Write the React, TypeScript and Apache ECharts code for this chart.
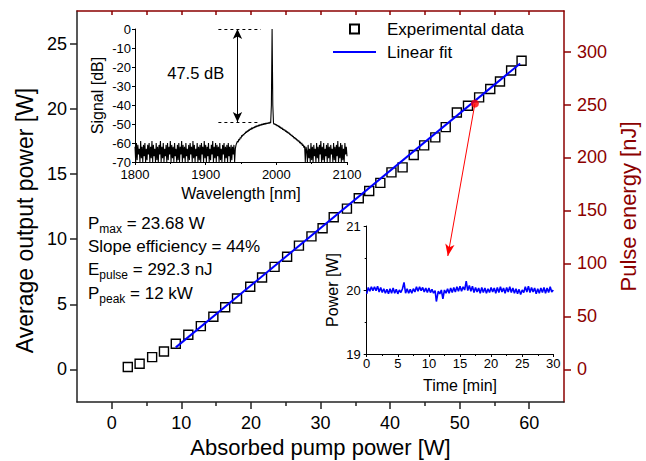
import React, { useEffect, useRef } from 'react';
import * as echarts from 'echarts';

// ---------- main plot data ----------
const pumpPower = [2.3, 4.0, 5.8, 7.5, 9.2, 11.0, 12.8, 14.6, 16.3, 18.0, 19.9, 21.6, 23.4, 25.2, 26.9, 28.7, 30.3, 31.9, 33.8, 35.5, 37.0, 38.6, 40.2, 41.8, 43.4, 44.9, 46.5, 48.0, 49.6, 51.2, 52.8, 54.4, 55.8, 57.4, 58.9];
const outputPower = [0.18, 0.44, 0.94, 1.38, 1.97, 2.66, 3.32, 4.04, 4.77, 5.44, 6.34, 7.05, 7.87, 8.64, 9.5, 10.21, 10.83, 11.67, 12.34, 13.13, 13.69, 14.31, 15.12, 15.5, 16.45, 17.19, 17.8, 18.59, 19.71, 20.23, 20.87, 21.51, 22.09, 22.93, 23.68];
const fitPump = [9.2, 58.7];
const fitOutput = [1.69, 23.47];
const markedPoint = [52.2, 20.4];
const arrowTip = [48.3, 8.7];

const pumpTicks = [0, 10, 20, 30, 40, 50, 60];
const pumpMinorTicks = [5, 15, 25, 35, 45, 55];
const pumpTopTicks = [0, 5, 10, 15, 20, 25, 30, 35, 40, 45, 50, 55, 60];
const powerTicks = [0, 5, 10, 15, 20, 25];
const energyTicks = [0, 50, 100, 150, 200, 250, 300];

const paramLines = [
  { main: 'P', sub: 'max', rest: ' = 23.68 W' },
  { main: 'Slope efficiency = 44%', sub: '', rest: '' },
  { main: 'E', sub: 'pulse', rest: ' = 292.3 nJ' },
  { main: 'P', sub: 'peak', rest: ' = 12 kW' },
];

// ---------- inset 1: optical spectrum, 1 nm sampling from 1800 nm ----------
const specStartNm = 1800;
const specStepNm = 1;
const specDb = [
  // 1800 - 1939 noise floor
  -62, -70, -60, -69, -61, -66, -63, -70, -59, -68,
  -62, -70, -61, -67, -60, -70, -63, -69, -61, -66,
  -60, -70, -62, -68, -59, -70, -61, -67, -63, -70,
  -60, -69, -62, -70, -61, -66, -59, -70, -62, -68,
  -60, -70, -63, -67, -61, -70, -60, -69, -62, -66,
  -59, -70, -61, -68, -62, -70, -60, -67, -63, -70,
  -61, -69, -60, -70, -62, -66, -59, -70, -61, -68,
  -62, -70, -60, -67, -63, -70, -61, -69, -60, -66,
  -62, -70, -59, -68, -61, -70, -63, -67, -60, -70,
  -62, -69, -61, -70, -60, -66, -62, -70, -59, -68,
  -61, -70, -62, -67, -60, -70, -63, -69, -61, -66,
  -59, -70, -62, -68, -60, -70, -61, -67, -62, -70,
  -60, -69, -63, -70, -61, -66, -60, -70, -62, -68,
  -61, -70, -60, -67, -62, -70, -61, -69, -62, -66,
  // 1940 - 1943
  -61, -70, -63, -61,
  // 1944 - 1993 rising ASE pedestal
  -60, -59, -59.5, -58, -58.5, -57, -57.5, -56, -56.5, -55.5,
  -55.8, -54.8, -55, -54, -54.5, -53.5, -54, -53, -53.5, -52.5,
  -53, -52, -52.6, -51.8, -52.2, -51.4, -51.9, -51, -51.6, -50.8,
  -51.3, -50.5, -51, -50.3, -50.8, -50, -50.6, -49.8, -50.4, -49.6,
  -50.2, -49.5, -50, -49.3, -49.9, -49.2, -49.7, -49, -49.5, -40,
  // 1994 laser line, 1995 - 2042 falling pedestal
  0, -40, -49.6, -50.2, -49.8, -50.6, -50.2, -51, -50.6, -51.5,
  -51, -52, -51.5, -52.5, -52, -53, -52.6, -53.4, -53, -54,
  -53.5, -54.5, -54, -55, -54.6, -55.6, -55.2, -56.2, -55.8, -56.8,
  -56.4, -57.5, -57, -58, -57.6, -58.6, -58.2, -59.2, -58.8, -60,
  -59.4, -60.6, -60, -61.5, -60.8, -62.5, -61.5, -70, -62,
  // 2043 - 2100 noise floor
  -64, -70, -61, -68, -63, -70, -60, -69, -62, -70,
  -61, -67, -63, -70, -60, -68, -62, -70, -61, -66,
  -59, -70, -62, -69, -60, -70, -63, -67, -61, -70,
  -60, -68, -62, -70, -61, -66, -63, -70, -60, -69,
  -62, -70, -61, -67, -59, -70, -62, -68, -60, -70,
  -61, -69, -63, -70, -60, -66, -62, -67,
];
const specZeroLevel = [[1918, 0], [1978, 0]];
const specFloorLevel = [[1918, -49], [1974, -49]];
const specArrow = [[1945, 0], [1945, -49]];

// ---------- inset 2: power stability [min, W] ----------
const stability: [number, number][] = [
  [0, 19.94], [0.25, 20.04], [0.5, 19.98], [0.75, 20.05], [1, 19.99], [1.25, 20.05], [1.5, 19.99], [1.75, 20.06], [2, 19.97], [2.25, 20.04],
  [2.5, 19.96], [2.75, 20.02], [3, 19.95], [3.25, 20.01], [3.5, 19.94], [3.75, 20.02], [4, 19.95], [4.25, 20.03], [4.5, 19.95], [4.75, 20.01],
  [5, 19.94], [5.25, 20.0], [5.5, 19.96], [5.75, 20.02], [6, 20.12], [6.25, 19.95], [6.5, 20.02], [6.75, 19.95], [7, 20.01], [7.25, 19.95],
  [7.5, 20.02], [7.75, 19.97], [8, 20.05], [8.25, 19.98], [8.5, 20.05], [8.75, 19.99], [9, 20.04], [9.25, 19.97], [9.5, 20.03], [9.75, 19.96],
  [10, 20.03], [10.25, 19.96], [10.5, 20.01], [10.75, 19.95], [11, 19.99], [11.2, 19.82], [11.5, 19.98], [11.75, 19.94], [12, 20.0], [12.25, 19.86],
  [12.5, 20.0], [12.75, 19.95], [13, 20.02], [13.25, 19.95], [13.5, 20.03], [13.75, 19.96], [14, 20.04], [14.25, 19.97], [14.5, 20.05], [14.75, 19.98],
  [15, 20.06], [15.25, 19.98], [15.5, 20.05], [15.75, 20.0], [16, 20.14], [16.25, 19.99], [16.5, 20.07], [16.75, 19.98], [17, 20.06], [17.25, 19.96],
  [17.5, 20.04], [17.75, 19.97], [18, 20.03], [18.25, 19.95], [18.5, 20.04], [18.75, 19.96], [19, 20.03], [19.25, 19.95], [19.5, 20.02], [19.75, 19.96],
  [20, 20.04], [20.25, 19.97], [20.5, 20.03], [20.75, 19.95], [21, 20.04], [21.25, 19.96], [21.5, 20.05], [21.75, 19.97], [22, 20.03], [22.25, 19.95],
  [22.5, 20.04], [22.75, 19.97], [23, 20.05], [23.25, 19.96], [23.5, 20.03], [23.75, 19.95], [24, 20.02], [24.25, 19.94], [24.5, 20.01], [24.75, 19.93],
  [25, 20.0], [25.25, 19.96], [25.5, 20.05], [25.75, 19.97], [26, 20.06], [26.25, 19.96], [26.5, 20.04], [26.75, 19.97], [27, 20.03], [27.25, 19.94],
  [27.5, 20.02], [27.75, 19.95], [28, 20.03], [28.25, 19.96], [28.5, 20.04], [28.75, 19.95], [29, 20.03], [29.25, 19.96], [29.5, 20.05], [29.75, 19.97],
  [30, 20.0],
];

const FONT = "'Liberation Sans', Arial, Helvetica, sans-serif";
const DARK_RED = '#8B0000';
const AXIS_GRAY = '#222';

export default function App() {
  const ref = useRef<HTMLDivElement>(null);

  useEffect(() => {
    document.body.style.margin = '0';
    if (!ref.current) return;
    const chart = echarts.init(ref.current, undefined, { renderer: 'svg' });

    const paramText = paramLines
      .map((l) => `{m|${l.main}}` + (l.sub ? `{s|${l.sub}}` : '') + (l.rest ? `{m|${l.rest}}` : ''))
      .join('\n');

    const spectrum = specDb.map((db, i) => [specStartNm + i * specStepNm, db]);

    const txt = (size: number, color = '#000') => ({ fontSize: size, color, fontFamily: FONT });

    const option: any = {
      animation: false,
      backgroundColor: '#fff',
      textStyle: { fontFamily: FONT },
      grid: [
        { left: 77, top: 11, width: 487, height: 391, outerBoundsMode: 'none', containLabel: false },
        { left: 135, top: 29, width: 212, height: 133, outerBoundsMode: 'none', containLabel: false },
        { left: 366.7, top: 226, width: 186.6, height: 128, outerBoundsMode: 'none', containLabel: false },
      ],
      legend: {
        data: [
          { name: 'Experimental data', lineStyle: { opacity: 0 } },
          { name: 'Linear fit', itemStyle: { opacity: 0 } },
        ],
        orient: 'vertical',
        left: 332,
        top: 20,
        padding: 0,
        itemWidth: 43,
        itemHeight: 11.25,
        itemGap: 5,
        selectedMode: false,
        textStyle: { ...txt(17), lineHeight: 18, padding: [0, 0, 0, 6] },
      },
      xAxis: [
        {
          type: 'value', gridIndex: 0, min: -5, max: 65, position: 'bottom',
          name: 'Absorbed pump power [W]', nameLocation: 'middle', nameGap: 34,
          nameTextStyle: txt(22),
          axisLine: { show: true, onZero: false, lineStyle: { color: AXIS_GRAY, width: 1.5 } },
          axisTick: { show: true, length: 7, customValues: pumpTicks, lineStyle: { color: AXIS_GRAY, width: 1.5 } },
          axisLabel: { customValues: pumpTicks, margin: 12, ...txt(18) },
          splitLine: { show: false },
        },
        {
          type: 'value', gridIndex: 0, min: -5, max: 65, position: 'bottom',
          axisLine: { show: false, onZero: false },
          axisTick: { show: true, length: 4, customValues: pumpMinorTicks, lineStyle: { color: AXIS_GRAY, width: 1.5 } },
          axisLabel: { show: false },
          splitLine: { show: false },
        },
        {
          type: 'value', gridIndex: 0, min: -5, max: 65, position: 'top',
          axisLine: { show: true, onZero: false, lineStyle: { color: DARK_RED, width: 1.5 } },
          axisTick: { show: true, inside: true, length: 4, customValues: pumpTopTicks, lineStyle: { color: DARK_RED, width: 1.5 } },
          axisLabel: { show: false },
          splitLine: { show: false },
        },
        {
          type: 'value', gridIndex: 1, min: 1800, max: 2100, interval: 100, position: 'bottom',
          name: 'Wavelength [nm]', nameLocation: 'middle', nameGap: 23, nameTextStyle: txt(16),
          axisLine: { show: true, onZero: false, lineStyle: { color: '#000', width: 1 } },
          axisTick: { show: true, length: 3, lineStyle: { color: '#000' } },
          minorTick: { show: true, splitNumber: 2, length: 2, lineStyle: { color: '#000' } },
          axisLabel: { margin: 6, formatter: (v: number) => String(v), ...txt(13) },
          splitLine: { show: false },
        },
        {
          type: 'value', gridIndex: 2, min: 0, max: 30, interval: 5, position: 'bottom',
          name: 'Time [min]', nameLocation: 'middle', nameGap: 23, nameTextStyle: txt(16),
          axisLine: { show: true, onZero: false, lineStyle: { color: '#000', width: 1 } },
          axisTick: { show: true, length: 3, lineStyle: { color: '#000' } },
          minorTick: { show: true, splitNumber: 2, length: 2, lineStyle: { color: '#000' } },
          axisLabel: { margin: 3, ...txt(13) },
          splitLine: { show: false },
        },
      ],
      yAxis: [
        {
          type: 'value', gridIndex: 0, min: -2.5, max: 27.5, position: 'left',
          name: 'Average output power [W]', nameLocation: 'middle', nameGap: 38,
          nameTextStyle: { ...txt(23), padding: [0, 28, 0, 0] },
          axisLine: { show: true, onZero: false, lineStyle: { color: AXIS_GRAY, width: 1.5 } },
          axisTick: { show: true, length: 7, customValues: powerTicks, lineStyle: { color: AXIS_GRAY, width: 1.5 } },
          axisLabel: { customValues: powerTicks, margin: 10, ...txt(18) },
          splitLine: { show: false },
        },
        {
          type: 'value', gridIndex: 0, min: -30.75, max: 338.25, position: 'right',
          name: 'Pulse energy [nJ]', nameLocation: 'middle', nameGap: 50,
          nameTextStyle: txt(22, DARK_RED),
          axisLine: { show: true, onZero: false, lineStyle: { color: DARK_RED, width: 1.5 } },
          axisTick: { show: true, length: 7, customValues: energyTicks, lineStyle: { color: DARK_RED, width: 1.5 } },
          axisLabel: { customValues: energyTicks, margin: 13, ...txt(18, DARK_RED) },
          splitLine: { show: false },
        },
        {
          type: 'value', gridIndex: 1, min: -70, max: 0, interval: 10, position: 'left',
          name: 'Signal [dB]', nameLocation: 'middle', nameGap: 30, nameTextStyle: txt(16),
          axisLine: { show: true, onZero: false, lineStyle: { color: '#000', width: 1 } },
          axisTick: { show: true, length: 3, lineStyle: { color: '#000' } },
          axisLabel: { margin: 4, ...txt(13) },
          splitLine: { show: false },
        },
        {
          type: 'value', gridIndex: 2, min: 19, max: 21, interval: 1, position: 'left',
          name: 'Power [W]', nameLocation: 'middle', nameGap: 26, nameTextStyle: txt(16),
          axisLine: { show: true, onZero: false, lineStyle: { color: '#000', width: 1 } },
          axisTick: { show: true, length: 3, lineStyle: { color: '#000' } },
          minorTick: { show: true, splitNumber: 2, length: 2, lineStyle: { color: '#000' } },
          axisLabel: { margin: 6, ...txt(13) },
          splitLine: { show: false },
        },
      ],
      series: [
        {
          type: 'line', name: 'Experimental data', xAxisIndex: 0, yAxisIndex: 0,
          data: pumpPower.map((x, i) => [x, outputPower[i]]),
          symbol: 'rect', symbolSize: 9, showSymbol: true, showAllSymbol: true,
          lineStyle: { width: 0, opacity: 0 },
          itemStyle: { color: 'rgba(255,255,255,0)', borderColor: '#000', borderWidth: 1.4 },
          z: 3,
        },
        {
          type: 'line', name: 'Linear fit', xAxisIndex: 0, yAxisIndex: 0,
          data: fitPump.map((x, i) => [x, fitOutput[i]]),
          symbol: 'none', showSymbol: false,
          lineStyle: { color: '#0000FF', width: 2 }, itemStyle: { color: '#0000FF' },
          z: 4,
        },
        {
          type: 'scatter', xAxisIndex: 0, yAxisIndex: 0,
          data: [markedPoint], symbol: 'circle', symbolSize: 8,
          itemStyle: { color: '#FF0000' },
          markLine: {
            silent: true, symbol: ['none', 'arrow'], symbolSize: [7, 12],
            label: { show: false },
            lineStyle: { color: '#FF0000', width: 1, type: 'solid' },
            data: [[{ coord: markedPoint }, { coord: arrowTip }]],
          },
          z: 5,
        },
        {
          type: 'line', xAxisIndex: 3, yAxisIndex: 2,
          data: spectrum, symbol: 'none', showSymbol: false,
          lineStyle: { color: '#000', width: 1.1 },
          markLine: {
            silent: true, symbol: ['none', 'none'],
            label: { show: false },
            lineStyle: { color: '#000', width: 1, type: [3, 3] },
            data: [
              [{ coord: specZeroLevel[0] }, { coord: specZeroLevel[1] }],
              [{ coord: specFloorLevel[0] }, { coord: specFloorLevel[1] }],
              [
                { coord: specArrow[0], symbol: 'arrow', symbolSize: [7, 10], lineStyle: { type: 'solid', color: '#000', width: 1 } },
                { coord: specArrow[1], symbol: 'arrow', symbolSize: [7, 10] },
              ],
            ],
          },
        },
        {
          type: 'line', xAxisIndex: 4, yAxisIndex: 3,
          data: stability, symbol: 'none', showSymbol: false,
          lineStyle: { color: '#0000FF', width: 1.6 },
        },
      ],
      graphic: [
        {
          type: 'text', x: 195.7, y: 72.7, silent: true,
          style: { text: '47.5 dB', fontSize: 16.5, fontFamily: FONT, fill: '#000', align: 'center', verticalAlign: 'middle' },
        },
        {
          type: 'text', x: 88, y: 211.5, silent: true,
          style: {
            text: paramText, fill: '#000', fontFamily: FONT, align: 'left', verticalAlign: 'top',
            rich: {
              m: { fontSize: 17, lineHeight: 23.3, verticalAlign: 'middle', fontFamily: FONT, fill: '#000' },
              s: { fontSize: 12, lineHeight: 12, verticalAlign: 'bottom', fontFamily: FONT, fill: '#000' },
            },
          },
        },
      ],
    };

    chart.setOption(option);
    return () => chart.dispose();
  }, []);

  return <div ref={ref} style={{ width: 646, height: 461 }} />;
}
